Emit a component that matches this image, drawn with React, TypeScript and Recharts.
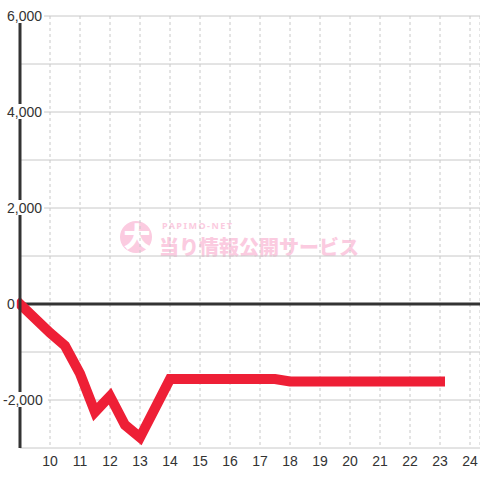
import { CartesianGrid, Line, LineChart, ReferenceLine, XAxis, YAxis } from "recharts";

// hour of day -> running balance
const HOURS = [9, 10, 10.5, 11, 11.5, 12, 12.5, 13, 14, 15, 16, 17, 17.5, 18, 19, 20, 21, 22, 23];
const VALUES = [0, -600, -870, -1450, -2250, -1920, -2520, -2780, -1565, -1565, -1565, -1565, -1565, -1615, -1615, -1615, -1615, -1615, -1615];

const X_TICKS = [10, 11, 12, 13, 14, 15, 16, 17, 18, 19, 20, 21, 22, 23, 24];
const Y_GRID = [-3000, -2000, -1000, 0, 1000, 2000, 3000, 4000, 5000, 6000];
const Y_LABELS = [-2000, 0, 2000, 4000, 6000];

const data = HOURS.map((h, i) => ({ h, v: VALUES[i] }));

const RED = "#ee1f36";
const INK = "#333";

const YTick = (props: any) => {
  const { y, payload } = props;
  const v = payload.value;
  if (!Y_LABELS.includes(v)) return null;
  const label = v.toLocaleString("en-US");
  const tx = v < 0 ? 3 : 7;
  const w = label.replace(/[,]/g, "").length * 7.8 + (label.includes(",") ? 3.9 : 0);
  return (
    <g>
      <rect x={tx - 2} y={y - 8} width={w + 4} height={15} fill="#fff" />
      <text x={tx} y={y} dy="0.36em" textAnchor="start" fontSize={14} fill={INK}>
        {label}
      </text>
    </g>
  );
};

function Watermark() {
  const pink = "#fbcbe0";
  return (
    <svg width={480} height={480} style={{ position: "absolute", left: 0, top: 0 }}>
      <circle cx={136} cy={237} r={16} fill={pink} />
      <text x={137} y={247} textAnchor="middle" fontSize={27} fontWeight={900} fill="#fff" fontFamily="'Noto Sans CJK JP'">
        大
      </text>
      <text x={162} y={229} fontSize={9} fontWeight={700} fill={pink} letterSpacing={1.5} fontFamily="'Noto Sans', sans-serif">
        PAPIMO-NET
      </text>
      <text x={159} y={255} fontSize={20} fontWeight={900} fill={pink} fontFamily="'Noto Sans CJK JP'">
        当り情報公開サービス
      </text>
    </svg>
  );
}

export default function App() {
  return (
    <div style={{ position: "absolute", left: 0, top: 0, width: 480, height: 480, background: "#fff", fontFamily: "'Liberation Sans', Arial, sans-serif" }}>
      <Watermark />
      <div style={{ position: "absolute", left: 0, top: 0 }}>
        <LineChart width={480} height={480} data={data} margin={{ top: 16, right: 0, bottom: 0, left: 0 }}>
          <CartesianGrid vertical={false} stroke="#c8c8c8" />
          <CartesianGrid horizontal={false} stroke="#c8c8c8" strokeDasharray="3 3" />
          <XAxis
            dataKey="h"
            type="number"
            domain={[9, 24.3333]}
            ticks={X_TICKS}
            interval={0}
            height={32}
            axisLine={false}
            tickLine={false}
            tick={{ fontSize: 14, fill: INK }}
          />
          <YAxis
            type="number"
            domain={[-3000, 6000]}
            ticks={Y_GRID}
            interval={0}
            width={20}
            axisLine={{ stroke: INK, strokeWidth: 3 }}
            tickLine={false}
            tick={<YTick />}
          />
          <ReferenceLine y={0} stroke={INK} strokeWidth={3} />
          <Line
            dataKey="v"
            stroke={RED}
            strokeWidth={10}
            strokeLinecap="square"
            strokeLinejoin="miter"
            dot={false}
            activeDot={false}
            isAnimationActive={false}
          />
        </LineChart>
      </div>
    </div>
  );
}
